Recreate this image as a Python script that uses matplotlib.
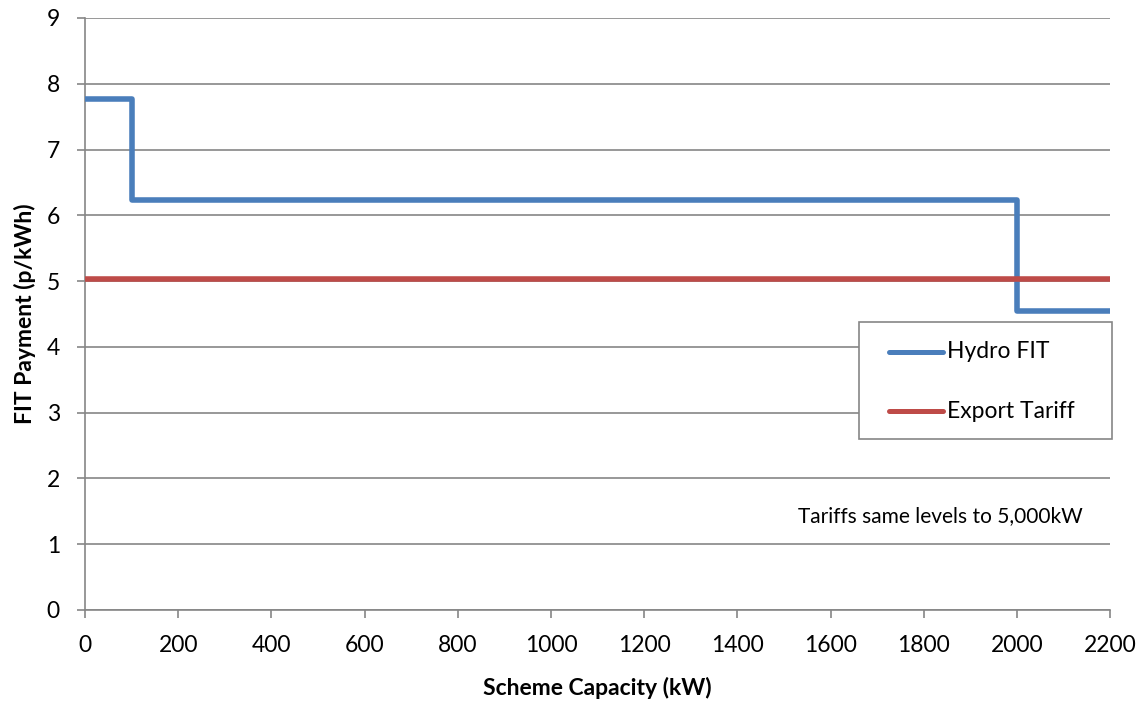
import matplotlib
matplotlib.use("Agg")
import matplotlib.pyplot as plt
from matplotlib.lines import Line2D
from matplotlib.patches import Rectangle

# step points of the hydro tariff (kW, p/kWh)
hydro_x = [0, 100, 100, 2000, 2000, 2200]
hydro_y = [7.77, 7.77, 6.24, 6.24, 4.54, 4.54]
export_x = [0, 2200]
export_y = [5.03, 5.03]
x_ticks = [0, 200, 400, 600, 800, 1000, 1200, 1400, 1600, 1800, 2000, 2200]
y_ticks = [0, 1, 2, 3, 4, 5, 6, 7, 8, 9]
note = "Tariffs same levels to 5,000kW"

BLUE = "#4A7EBB"
RED = "#BE4B48"
GRID = "#868686"

plt.rcParams["font.family"] = ["Lato", "DejaVu Sans"]

fig = plt.figure(figsize=(11.47, 7.02), dpi=100)
ax = fig.add_axes([0.0741, 0.1311, 0.8937, 0.8433])

lines = []
lines += ax.plot(hydro_x, hydro_y, color=BLUE, lw=4, solid_joinstyle="round",
                 solid_capstyle="butt", label="Hydro FIT", zorder=3)
lines += ax.plot(export_x, export_y, color=RED, lw=4, solid_capstyle="butt",
                 label="Export Tariff", zorder=3)

ax.set_xlim(0, 2200)
ax.set_ylim(0, 9)
ax.set_xticks(x_ticks)
ax.set_yticks(y_ticks)
ax.grid(axis="y", color=GRID, lw=1.2)
ax.set_axisbelow(True)
for side in ["top", "right"]:
    ax.spines[side].set_visible(False)
for side in ["left", "bottom"]:
    ax.spines[side].set_color(GRID)
    ax.spines[side].set_linewidth(1.2)
ax.tick_params(axis="both", colors=GRID, labelcolor="black", labelsize=16.5,
               length=6, width=1.2)
ax.tick_params(axis="x", pad=12)
ax.tick_params(axis="y", pad=12)

ax.set_xlabel("Scheme Capacity (kW)", fontsize=16.5, fontweight="bold", labelpad=15)
ax.set_ylabel("FIT Payment (p/kWh)", fontsize=16.5, fontweight="bold", labelpad=8)

# legend box drawn by hand, Excel style
box_x0, box_x1 = 0.755, 1.002
box_y0, box_y1 = 0.289, 0.486
ax.add_patch(Rectangle((box_x0, box_y0), box_x1 - box_x0, box_y1 - box_y0,
                       transform=ax.transAxes, facecolor="white", edgecolor=GRID,
                       lw=1.2, zorder=5, clip_on=False))
row_y = [0.436, 0.336]
for line, ly in zip(lines, row_y):
    ax.add_line(Line2D([0.784, 0.837], [ly, ly], transform=ax.transAxes,
                       color=line.get_color(), lw=3.6, solid_capstyle="round",
                       zorder=6, clip_on=False))
    ax.text(0.841, ly, line.get_label(), transform=ax.transAxes, ha="left",
            va="center", fontsize=16.5, zorder=6)

ax.text(0.973, 0.159, note, transform=ax.transAxes, ha="right", va="center",
        fontsize=15)

fig.savefig("out.png", dpi=100)
